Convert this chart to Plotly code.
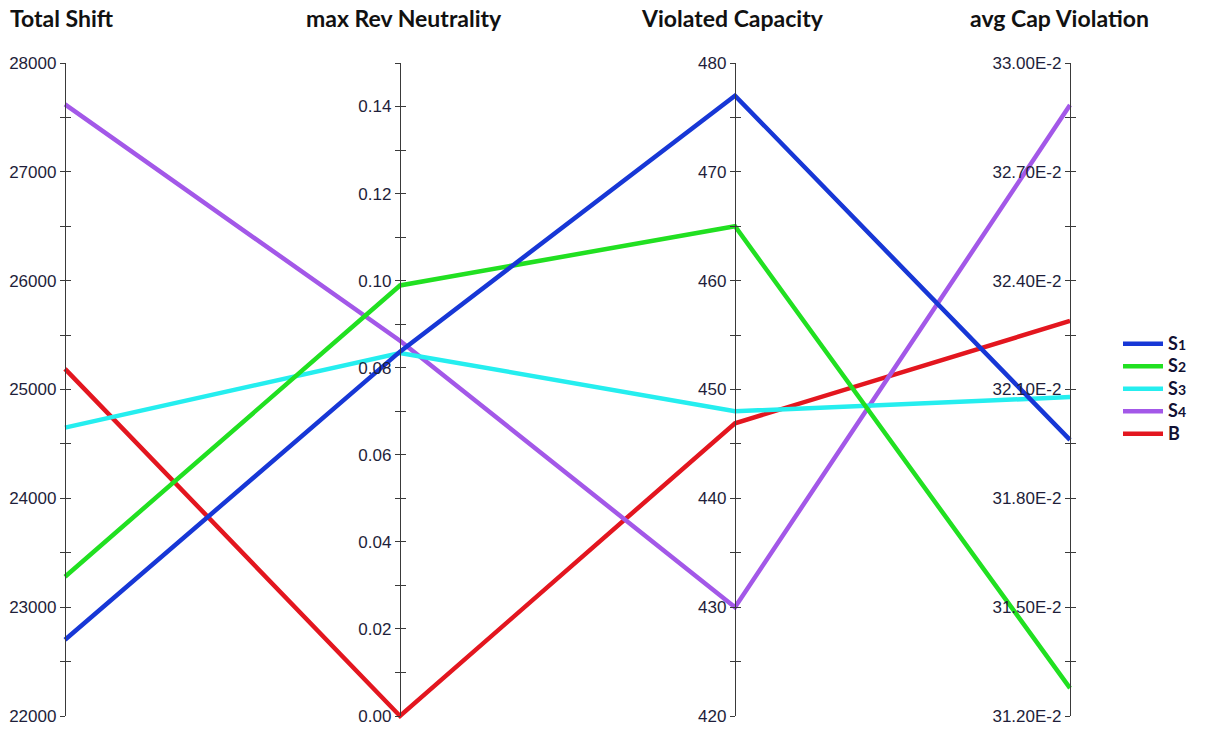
import plotly.graph_objects as go

# Scenario results on four criteria
series = ["S", "S", "S", "S", "B"]
series_idx = ["1", "2", "3", "4", ""]
colors = ["#1737d6", "#21e021", "#25eeef", "#a358e8", "#e3161f"]

total_shift = [22700, 23280, 24650, 27620, 25190]
max_rev_neutrality = [0.0837, 0.0989, 0.0834, 0.0862, 0.0]
violated_capacity = [477.0, 465.0, 448.0, 430.0, 446.9]
avg_cap_violation = [0.31961, 0.31277, 0.32079, 0.32884, 0.32289]

titles = ["Total Shift", "max Rev Neutrality", "Violated Capacity", "avg Cap Violation"]

# Axis ranges and major tick spacing
ranges = [(22000, 28000), (0.0, 0.15), (420, 480), (0.312, 0.330)]
steps = [1000, 0.02, 10, 0.003]


def fmt_shift(v):
    return f"{v:.0f}"


def fmt_rev(v):
    return f"{v:.2f}"


def fmt_cap(v):
    return f"{v:.0f}"


def fmt_avg(v):
    return f"{v * 100:.2f}E-2"


formatters = [fmt_shift, fmt_rev, fmt_cap, fmt_avg]
columns = [total_shift, max_rev_neutrality, violated_capacity, avg_cap_violation]


def build_ticks(lo, hi, step, fmt):
    vals, text = [], []
    k = 0
    while True:
        v = lo + k * step / 2
        if v > hi + 1e-9 * max(1.0, abs(hi)):
            break
        vals.append(v)
        text.append(fmt(v) if k % 2 == 0 else "")
        k += 1
    return vals, text


def legend_label(base, idx):
    label = f"<span style='font-size:18px'><b>{base}</b></span>"
    if idx:
        label += f"<span style='font-size:14px'><b>{idx}</b></span>"
    return label


# ---- page geometry (pixels) ----
W, H = 1209, 731
ML, MR, MT, MB = 40, 110, 40, 0
AX_X = [65, 400, 735, 1070]      # pixel column of each coordinate axis
AX_TOP, AX_BOT = 63, 716         # pixel rows of axis max / min

pw, ph = W - ML - MR, H - MT - MB
fx = [(x - ML) / pw for x in AX_X]
d_lo = (H - MB - AX_BOT) / ph
d_hi = (H - MB - AX_TOP) / ph

# shared x axis: dimension index 0..3 sits on its axis column
xspan = (len(AX_X) - 1) / (fx[-1] - fx[0])
xmin = -fx[0] * xspan
xrange_ = [xmin, xmin + xspan]

# shared hidden y axis for the polylines: 0..1 fills each axis' extent
yspan = 1 / (d_hi - d_lo)
ymin = -d_lo * yspan
yrange_ = [ymin, ymin + yspan]

fig = go.Figure()

tick_font = dict(family="Liberation Sans, Arial", size=17, color="#1e1e3a")
axis_col = "#3a3a3a"
layout_axes = {}
for d, ((lo, hi), step, fmt) in enumerate(zip(ranges, steps, formatters)):
    tv, tt = build_ticks(lo, hi, step, fmt)
    main_id = d + 2
    cross_id = d + 6
    layout_axes[f"yaxis{main_id}"] = dict(
        domain=[d_lo, d_hi], range=[lo, hi], anchor="free", position=fx[d],
        side="left", showline=True, linecolor=axis_col, linewidth=1.3,
        ticks="outside", ticklen=5, tickcolor=axis_col, tickwidth=1.2,
        tickmode="array", tickvals=tv, ticktext=tt, tickfont=tick_font,
        showgrid=False, zeroline=False, fixedrange=True, automargin=False,
    )
    layout_axes[f"yaxis{cross_id}"] = dict(
        domain=[d_lo, d_hi], range=[lo, hi], anchor="free", position=fx[d],
        side="left", showline=False, showticklabels=False,
        ticks="inside", ticklen=5, tickcolor=axis_col, tickwidth=1.2,
        tickmode="array", tickvals=tv, showgrid=False, zeroline=False,
        fixedrange=True, automargin=False,
    )
    for ax_id in (main_id, cross_id):
        fig.add_trace(go.Scatter(x=[None], y=[None], yaxis=f"y{ax_id}",
                                 showlegend=False, hoverinfo="skip"))

# Polylines (B first so S1 ends up on top), scaled into each axis' range
draw_order = [4, 3, 2, 1, 0]
dims = list(range(len(columns)))
for i in draw_order:
    yn = [(columns[d][i] - ranges[d][0]) / (ranges[d][1] - ranges[d][0]) for d in dims]
    fig.add_trace(go.Scatter(
        x=dims, y=yn, mode="lines", name=legend_label(series[i], series_idx[i]),
        line=dict(color=colors[i], width=4.5), legendrank=i + 1,
        customdata=[columns[d][i] for d in dims],
        hovertemplate="%{customdata}<extra>" + series[i] + series_idx[i] + "</extra>",
    ))

# Axis titles
title_shift = [-3, 4, -3, -11]
for t, xp, sh in zip(titles, fx, title_shift):
    fig.add_annotation(text=f"<b>{t}</b>", x=xp, y=1, xref="paper", yref="paper",
                       xshift=sh, yshift=MT - 18, showarrow=False,
                       xanchor="center", yanchor="middle",
                       font=dict(family="Lato, Open Sans", size=23, color="#111111"))

fig.update_layout(
    width=W, height=H,
    margin=dict(l=ML, r=MR, t=MT, b=MB, autoexpand=False),
    paper_bgcolor="white", plot_bgcolor="rgba(0,0,0,0)",
    xaxis=dict(range=xrange_, visible=False, fixedrange=True),
    yaxis=dict(range=yrange_, domain=[0, 1], visible=False, fixedrange=True),
    showlegend=True,
    legend=dict(x=(1118 - ML) / pw, y=(H - MB - 389) / ph, xanchor="left",
                yanchor="middle", traceorder="normal",
                font=dict(family="Lato, Open Sans", size=15, color="#111133"),
                itemwidth=40, tracegroupgap=0, bgcolor="rgba(0,0,0,0)"),
    **layout_axes,
)

fig.write_html("out.html")
